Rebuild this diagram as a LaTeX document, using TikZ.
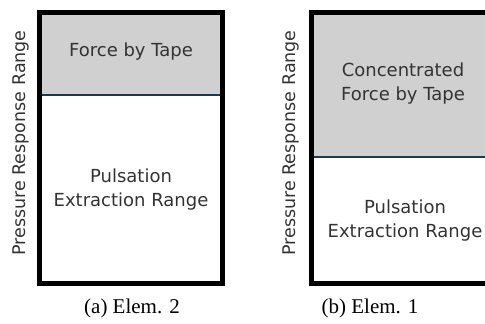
\documentclass[tikz,border=0pt]{standalone}
\usepackage{fontspec}
\setmainfont{Liberation Serif}
\setsansfont{DejaVu Sans}
\usetikzlibrary{positioning}

\definecolor{tapegray}{HTML}{D0D0D0}
\definecolor{splitline}{HTML}{1B3A4B}

\begin{document}
\begin{tikzpicture}[x=1pt,y=1pt,
    frame/.style={line width=5pt},
    split/.style={draw=splitline,line width=2pt},
    rangetext/.style={font=\sffamily\fontsize{18}{24}\selectfont,align=center,text=black!80},
    axistext/.style={font=\sffamily\fontsize{17.5}{20}\selectfont,rotate=90,text=black!80},
    captext/.style={font=\fontsize{21}{24}\selectfont}]

\useasboundingbox (0,0) rectangle (485,324);

% (a) Elem. 2
\coordinate (aSW) at (39.5,40.5);
\coordinate (aNE) at (222.5,311);
\coordinate (aW) at (39.5,229);
\coordinate (aE) at (222.5,229);

\fill [tapegray] (aW) rectangle (aNE);
\draw [split] (aW) -- (aE);
\draw [frame] (aSW) rectangle (aNE);

\node [rangetext] (aTop) at (131,272) {Force by Tape};
\node [rangetext] (aBot) at (131,134) {Pulsation\\Extraction Range};
\node [axistext] (aAxis) at (21,181) {Pressure Response Range};
\node [captext] (aCap) at (132,16) {(a) Elem. 2};

% (b) Elem. 1
\coordinate (bSW) at (311.5,40.5);
\coordinate (bNW) at (311.5,311);
\coordinate (bW) at (311.5,167);
\coordinate (bE) at (490,167);

\fill [tapegray] (bW) rectangle (490,311);
\draw [split] (bW) -- (bE);
\draw [frame] (490,40.5) -- (bSW) -- (bNW) -- (490,311);

\node [rangetext] (bTop) at (403,240) {Concentrated\\Force by Tape};
\node [rangetext] (bBot) at (405,103) {Pulsation\\Extraction Range};
\node [axistext] (bAxis) at (291,181) {Pressure Response Range};
\node [captext] (bCap) at (370,16) {(b) Elem. 1};

\end{tikzpicture}
\end{document}
